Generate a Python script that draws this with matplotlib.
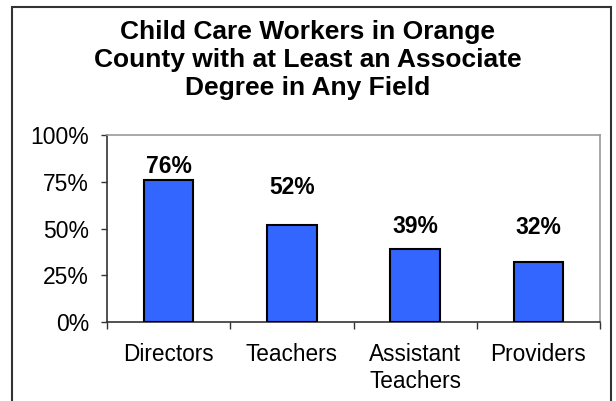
import matplotlib
matplotlib.use("Agg")
import matplotlib.pyplot as plt
from matplotlib.patches import Rectangle
from matplotlib.ticker import FuncFormatter

plt.rcParams['font.family'] = ['Liberation Sans', 'DejaVu Sans']

# data
categories = ['Directors', 'Teachers', 'Assistant\nTeachers', 'Providers']
values = [0.76, 0.52, 0.39, 0.32]
value_labels = ['76%', '52%', '39%', '32%']
label_y = [0.83, 0.72, 0.513, 0.508]   # where the labels sit in the original
yticks = [0, 0.25, 0.5, 0.75, 1.0]

fig = plt.figure(figsize=(6.16, 4.01), dpi=100)
ax = fig.add_axes([107/616, 79/401, 493/616, 187/401])

x = list(range(len(categories)))
ax.bar(x, values, width=0.4, color='#3366FF', edgecolor='black', linewidth=1.5, zorder=3)

for xi, lab, ly in zip(x, value_labels, label_y):
    ax.text(xi, ly, lab, ha='center', va='center', fontsize=16.5, fontweight='bold')

ax.set_xlim(-0.5, len(categories) - 0.5)
ax.set_ylim(0, 1.0)
ax.set_yticks(yticks)
ax.yaxis.set_major_formatter(FuncFormatter(lambda v, p: f'{v*100:.0f}%'))
ax.tick_params(axis='y', labelsize=16.5, length=4, width=1, color='#333333', pad=9)

# category labels at centres, tick marks at the boundaries
ax.set_xticks([i + 0.5 for i in x[:-1]] + [-0.5, len(categories) - 0.5])
ax.set_xticklabels([])
ax.set_xticks(x, minor=True)
ax.set_xticklabels(categories, minor=True, fontsize=16.3, linespacing=1.25)
ax.tick_params(axis='x', which='major', length=5, width=1, color='#333333')
ax.tick_params(axis='x', which='minor', length=0, pad=15)

for side in ['left', 'bottom']:
    ax.spines[side].set_color('#333333')
    ax.spines[side].set_linewidth(1.2)
for side in ['top', 'right']:
    ax.spines[side].set_color('#999999')
    ax.spines[side].set_linewidth(1.2)

fig.text(0.5, 1 - 60/401, 'Child Care Workers in Orange\nCounty with at Least an Associate\nDegree in Any Field',
         ha='center', va='center', fontsize=19, fontweight='bold', linespacing=1.22)

# outer chart frame (bottom edge runs off the image)
fig.patches.append(Rectangle((12/616, -0.1), 599/616, 1.1 - 7/401, transform=fig.transFigure,
                             fill=False, edgecolor='#333333', linewidth=1.5))

fig.savefig('out.png', dpi=100)
